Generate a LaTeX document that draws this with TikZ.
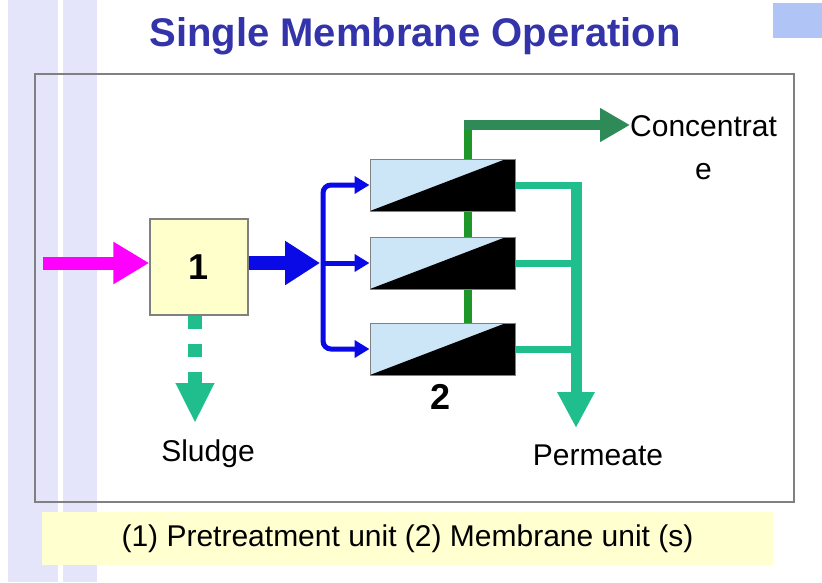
\documentclass[tikz,border=0pt]{standalone}
\usepackage{fontspec}
\setmainfont{Liberation Sans}
\usetikzlibrary{arrows.meta}

\definecolor{titleblue}{RGB}{51,51,170}
\definecolor{feedpink}{RGB}{255,0,255}
\definecolor{flowblue}{RGB}{10,10,230}
\definecolor{concgreen}{RGB}{30,150,40}
\definecolor{concsea}{RGB}{46,139,87}
\definecolor{permteal}{RGB}{32,190,140}
\definecolor{unityellow}{RGB}{255,255,204}
\definecolor{modblue}{RGB}{204,230,248}
\definecolor{bandlav}{RGB}{228,228,250}
\definecolor{cornerblue}{RGB}{176,196,245}
\definecolor{capyellow}{RGB}{255,255,208}

\begin{document}
\begin{tikzpicture}[x=1pt, y=1pt,
  lbl/.style={font=\fontsize{30}{43}\selectfont, inner sep=0pt},
  digit/.style={font=\fontsize{36}{40}\selectfont\bfseries, inner sep=0pt},
  unitbox/.style={draw=gray, line width=1.5pt, fill=unityellow, minimum width=98pt, minimum height=96pt, inner sep=0pt},
  module/.style={draw=gray, line width=1pt, fill=modblue, minimum width=145pt, minimum height=52pt, inner sep=0pt,
    path picture={\fill[black] (path picture bounding box.south west) -- ([xshift=-9pt]path picture bounding box.north east) -- (path picture bounding box.north east) -- (path picture bounding box.south east) -- cycle;}},
  feedflow/.style={draw=feedpink, line width=13pt, -{Triangle[length=36pt,width=40pt]}},
  mainflow/.style={draw=flowblue, line width=14pt, -{Triangle[length=35pt,width=42pt]}},
  branchflow/.style={draw=flowblue, line width=5pt, rounded corners=8pt, -{Triangle[length=15pt,width=17pt]}},
  sludgeflow/.style={draw=permteal, line width=14pt, dash pattern=on 13pt off 15pt, -{Triangle[length=40pt,width=36pt]}},
  permline/.style={draw=permteal, line width=7pt},
  permdrop/.style={draw=permteal, line width=11pt, -{Triangle[length=36pt,width=35pt]}},
  concline/.style={draw=concgreen, line width=8pt},
  concflow/.style={draw=concsea, line width=10pt, -{Triangle[length=30pt,width=32pt]}}
]
  % page and background bands
  \useasboundingbox (0,0) rectangle (822,-582);
  \fill[white] (0,0) rectangle (822,-582);
  \fill[bandlav] (8,0) rectangle (58,-582);
  \fill[bandlav] (63,0) rectangle (97,-582);
  \fill[cornerblue] (773,-3) rectangle (822,-38);

  % title and frame
  \node (title) [font=\fontsize{40}{48}\selectfont\bfseries, text=titleblue, inner sep=0pt] at (415,-36) {Single Membrane Operation};
  \draw[gray, line width=2pt] (35,-74) rectangle (794,-502);

  % units
  \node (unit1) [unitbox] at (199,-267) {};
  \node [digit] at (unit1.center) {1};
  \node (mod1) [module] at (442.5,-185) {};
  \node (mod2) [module] at (442.5,-263) {};
  \node (mod3) [module] at (442.5,-349) {};
  \node (unit2) [digit] at (441,-397) {2};

  % labels
  \node (sludge) [lbl] at (208,-454) {Sludge};
  \node (perm) [lbl] at (598,-455) {Permeate};
  \node (conc) [lbl, align=center, anchor=north west] at (630,-115) {Concentrat\\e};

  \coordinate (feed) at (43,-263);
  \coordinate (split) at (323,-263);
  \coordinate (stip) at (195,-423);
  \coordinate (ctop) at (468,-125);
  \coordinate (pcol) at (576,-185);
  \coordinate (ptip) at (576,-428);

  % feed and pretreatment
  \draw[feedflow] (feed) -- (unit1.west |- feed);
  \draw[sludgeflow] (unit1.south -| stip) -- (stip);
  \draw[mainflow] (unit1.east |- split) -- ([xshift=-3pt]split);

  % distribution to the modules
  \draw[branchflow] (split) |- (mod1.west);
  \draw[branchflow] (split |- mod2.west) -- (mod2.west);
  \draw[branchflow] (split) |- (mod3.west);

  % concentrate
  \draw[concline] (ctop |- mod3.north) -- (ctop |- mod2.south);
  \draw[concline] (ctop |- mod2.north) -- (ctop |- mod1.south);
  \draw[concline] (ctop |- mod1.north) -- ([yshift=5pt]ctop);
  \draw[concflow] ([xshift=-4pt]ctop) -- (ctop -| conc.west);

  % permeate
  \draw[permline] (mod1.east) -- ([xshift=5.5pt]mod1.east -| pcol);
  \draw[permline] (mod2.east) -- (mod2.east -| pcol);
  \draw[permline] (mod3.east) -- (mod3.east -| pcol);
  \draw[permdrop] ([yshift=3.5pt]pcol) -- (ptip);

  % caption
  \node (caption) [lbl, fill=capyellow, minimum width=731pt, minimum height=53pt] at (407.5,-538.5) {(1) Pretreatment unit (2) Membrane unit (s)};
\end{tikzpicture}
\end{document}
